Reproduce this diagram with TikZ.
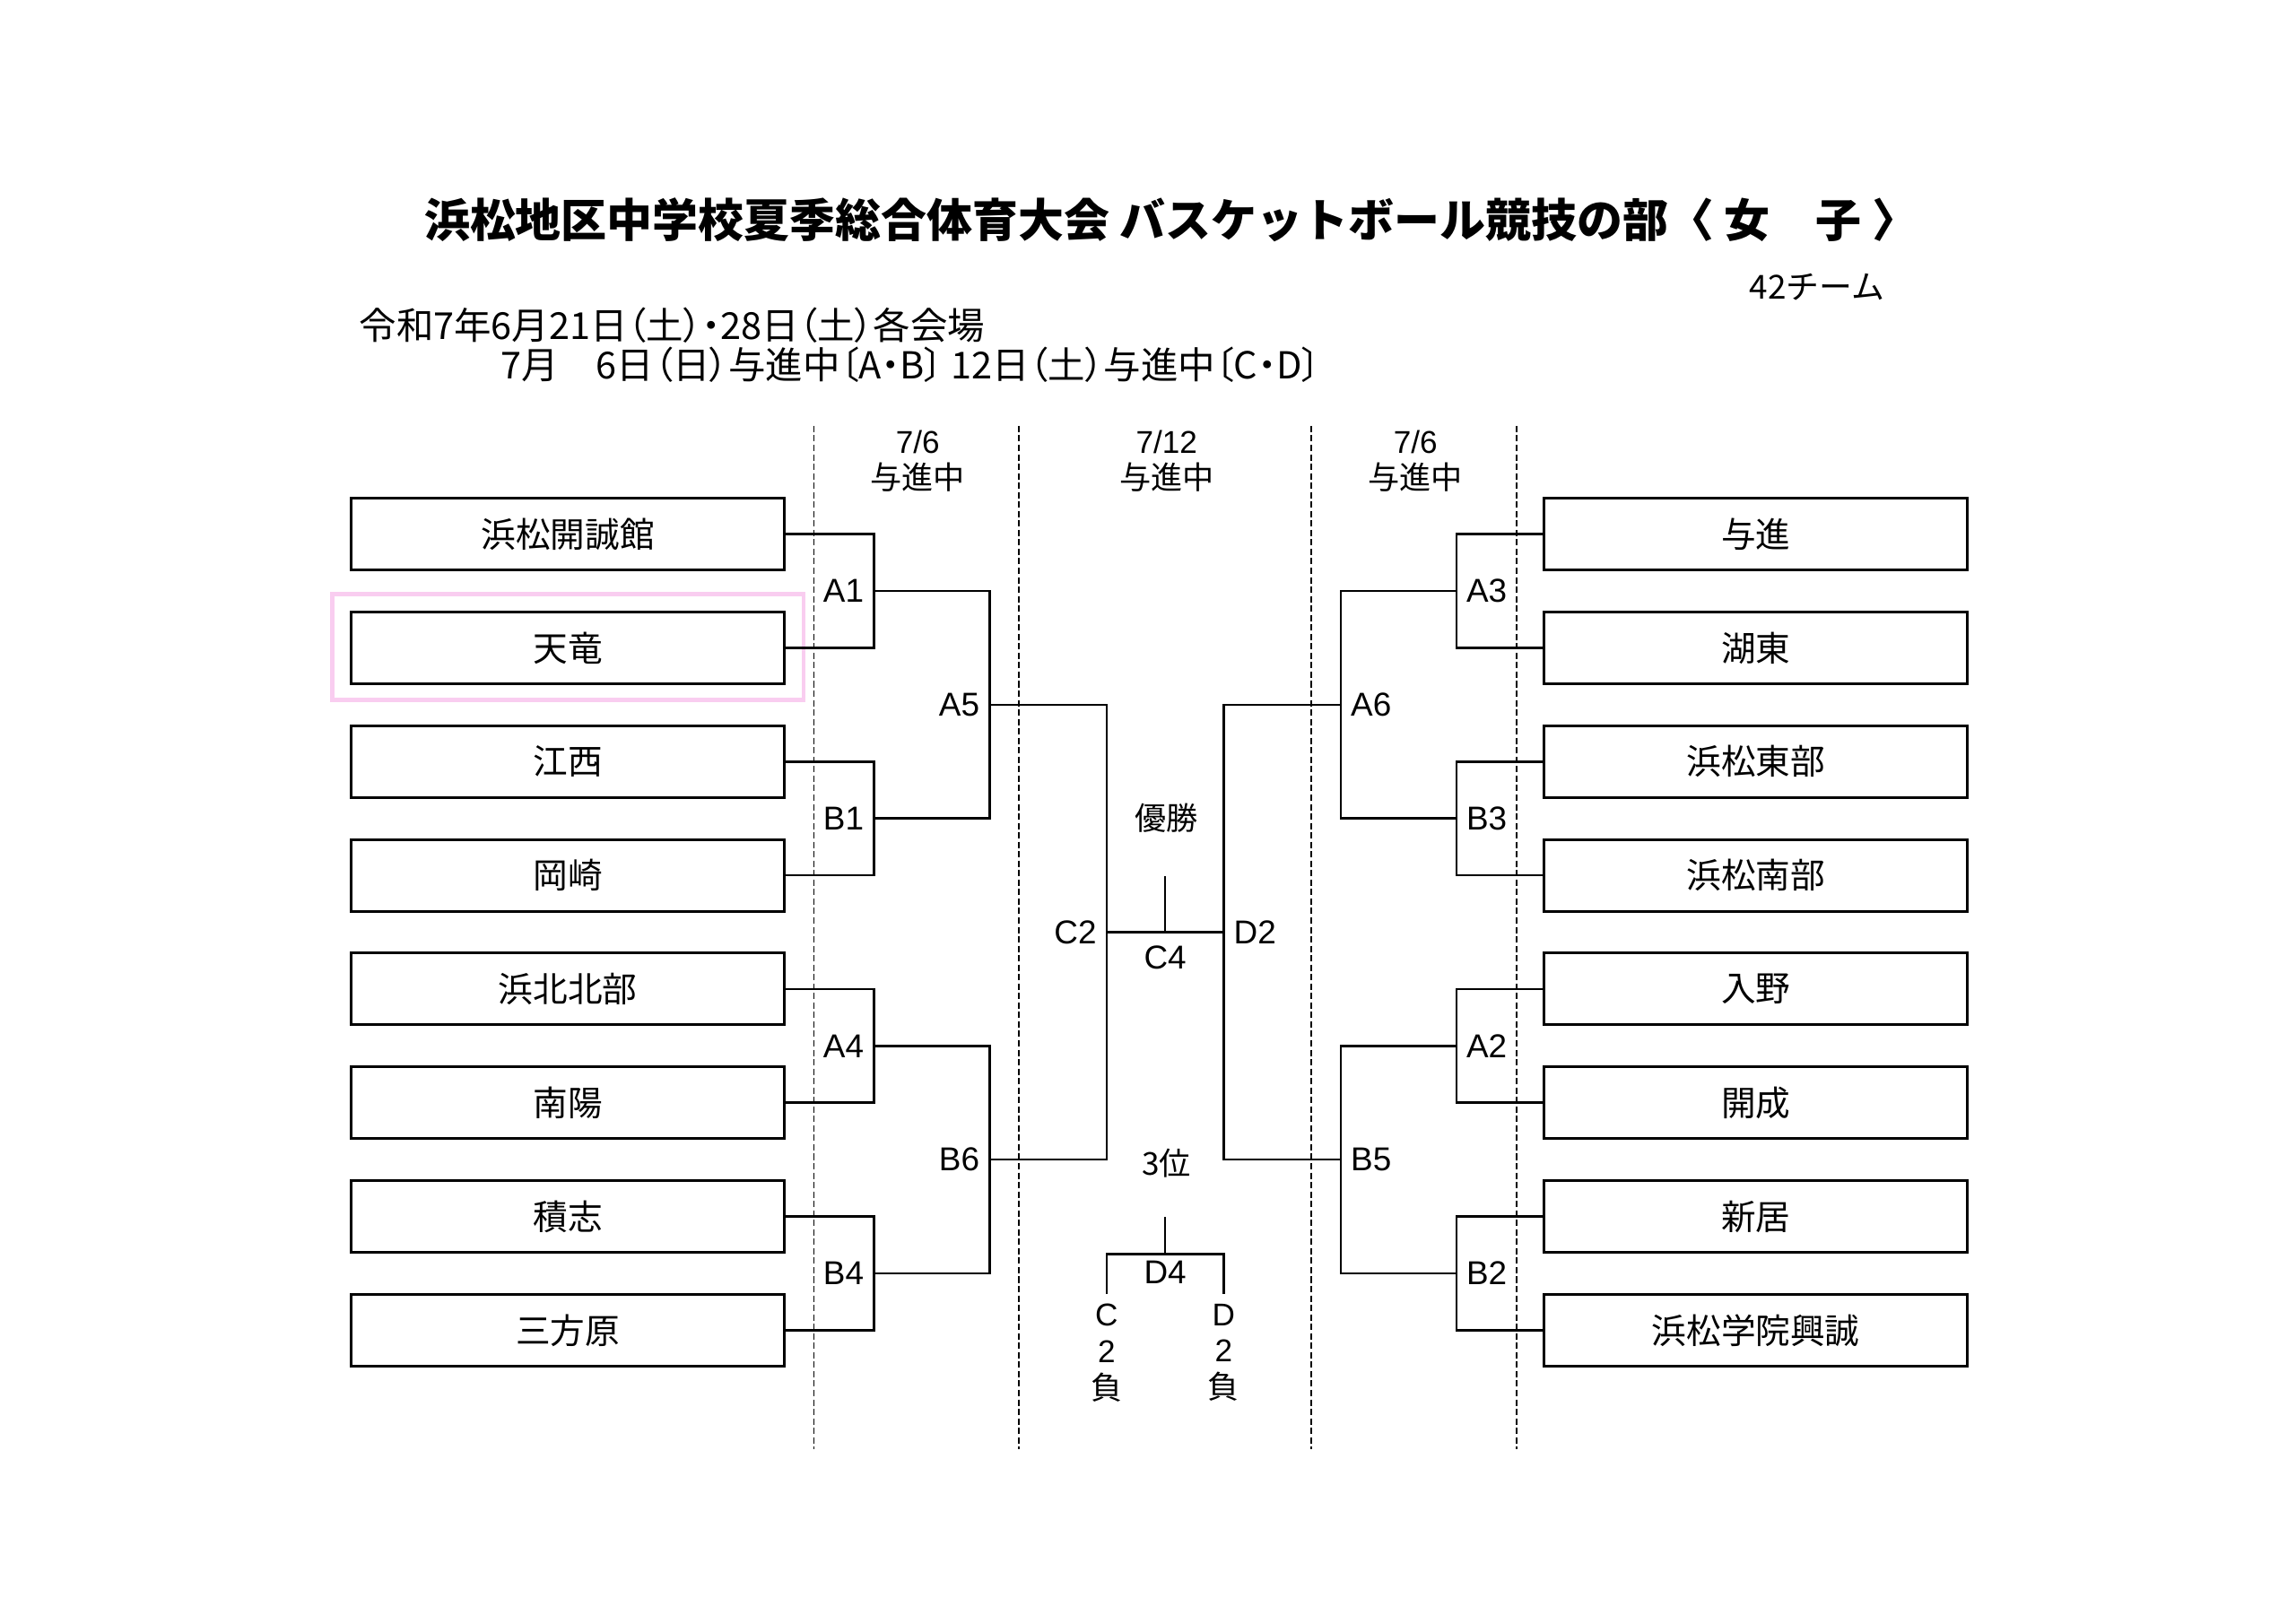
\documentclass[tikz,border=0pt]{standalone}
\usepackage{fontspec}
\setmainfont{Noto Sans CJK JP}
\newfontfamily\latin{Liberation Sans}
\newfontfamily\datefont[RawFeature=+palt]{Noto Sans CJK JP}
\usetikzlibrary{positioning}

\definecolor{markpink}{RGB}{249,205,240}

\tikzset{
	team/.style={draw, line width=0.85pt, minimum height=0.8cm, inner sep=0pt, font=\fontsize{11}{13}\selectfont},
	game/.style={inner sep=1pt, font=\latin\fontsize{10.5}{12}\selectfont},
	wire/.style={line width=0.75pt},
	divider/.style={line width=0.5pt, dash pattern=on 2pt off 1pt},
	note/.style={inner sep=0pt, align=center, font=\fontsize{10}{11.6}\selectfont},
	dateline/.style={anchor=west, inner sep=0pt, font=\datefont\fontsize{11.8}{13}\selectfont},
}

\begin{document}
\begin{tikzpicture}[x=0.01632cm, y=-0.01632cm]
		%%%%% START %%%%%
		\useasboundingbox[fill=white] (0, 0) rectangle (1568.6, 1109.1);
		
		\node[font=\bfseries\fontsize{14.5}{17}\selectfont] (title) at (800, 150) {浜松地区中学校夏季総合体育大会 バスケットボール競技の部〈 女　子 〉};
		\node[anchor=east, inner sep=0pt, font=\fontsize{10.5}{12}\selectfont] (count) at (1288, 196) {42チーム};
		\node[dateline] (date1) at (245, 222) {令和7年6月21日（土）・28日（土）各会場};
		\node[dateline] (date2) at (342, 249) {7月　6日（日）与進中〔A・B〕 12日（土）与進中〔C・D〕};
		
		% day columns
		\draw[divider] (556, 291) -- (556, 990);
		\draw[divider] (696, 291) -- (696, 990);
		\draw[divider] (896, 291) -- (896, 990);
		\draw[divider] (1036, 291) -- (1036, 990);
		\node[note] (dayL) at (627, 315) {{\latin 7/6}\\与進中};
		\node[note] (dayC) at (797, 315) {{\latin 7/12}\\与進中};
		\node[note] (dayR) at (967, 315) {{\latin 7/6}\\与進中};
		
		% marked team
		\draw[markpink, line width=1.4pt] (227, 406) rectangle (549, 478);
		
		% left half
		\node[team, minimum width=4.83cm] (L1) at (388, 365) {浜松開誠館};
		\node[team, minimum width=4.83cm] (L2) at (388, 442.7) {天竜};
		\node[team, minimum width=4.83cm] (L3) at (388, 520.4) {江西};
		\node[team, minimum width=4.83cm] (L4) at (388, 598.1) {岡崎};
		\node[team, minimum width=4.83cm] (L5) at (388, 675.8) {浜北北部};
		\node[team, minimum width=4.83cm] (L6) at (388, 753.5) {南陽};
		\node[team, minimum width=4.83cm] (L7) at (388, 831.2) {積志};
		\node[team, minimum width=4.83cm] (L8) at (388, 908.9) {三方原};
		
		\coordinate (A1) at (597, 403.85);
		\coordinate (B1) at (597, 559.25);
		\coordinate (A4) at (597, 714.65);
		\coordinate (B4) at (597, 870.05);
		\coordinate (A5) at (676, 481.55);
		\coordinate (B6) at (676, 792.35);
		\coordinate (C2) at (756, 637);
		
		\draw[wire] (L1.east) -| (A1);
		\draw[wire] (L2.east) -| (A1);
		\draw[wire] (L3.east) -| (B1);
		\draw[wire] (L4.east) -| (B1);
		\draw[wire] (L5.east) -| (A4);
		\draw[wire] (L6.east) -| (A4);
		\draw[wire] (L7.east) -| (B4);
		\draw[wire] (L8.east) -| (B4);
		\draw[wire] (A1) -| (A5);
		\draw[wire] (B1) -| (A5);
		\draw[wire] (A4) -| (B6);
		\draw[wire] (B4) -| (B6);
		\draw[wire] (A5) -| (C2);
		\draw[wire] (B6) -| (C2);
		
		\node[game, left=2pt of A1] (lA1) {A1};
		\node[game, left=2pt of B1] (lB1) {B1};
		\node[game, left=2pt of A4] (lA4) {A4};
		\node[game, left=2pt of B4] (lB4) {B4};
		\node[game, left=2pt of A5] (lA5) {A5};
		\node[game, left=2pt of B6] (lB6) {B6};
		\node[game, left=2pt of C2] (lC2) {C2};
		
		% right half
		\node[team, minimum width=4.72cm] (R1) at (1199.5, 365) {与進};
		\node[team, minimum width=4.72cm] (R2) at (1199.5, 442.7) {湖東};
		\node[team, minimum width=4.72cm] (R3) at (1199.5, 520.4) {浜松東部};
		\node[team, minimum width=4.72cm] (R4) at (1199.5, 598.1) {浜松南部};
		\node[team, minimum width=4.72cm] (R5) at (1199.5, 675.8) {入野};
		\node[team, minimum width=4.72cm] (R6) at (1199.5, 753.5) {開成};
		\node[team, minimum width=4.72cm] (R7) at (1199.5, 831.2) {新居};
		\node[team, minimum width=4.72cm] (R8) at (1199.5, 908.9) {浜松学院興誠};
		
		\coordinate (A3) at (995, 403.85);
		\coordinate (B3) at (995, 559.25);
		\coordinate (A2) at (995, 714.65);
		\coordinate (B2) at (995, 870.05);
		\coordinate (A6) at (916, 481.55);
		\coordinate (B5) at (916, 792.35);
		\coordinate (D2) at (836, 637);
		
		\draw[wire] (R1.west) -| (A3);
		\draw[wire] (R2.west) -| (A3);
		\draw[wire] (R3.west) -| (B3);
		\draw[wire] (R4.west) -| (B3);
		\draw[wire] (R5.west) -| (A2);
		\draw[wire] (R6.west) -| (A2);
		\draw[wire] (R7.west) -| (B2);
		\draw[wire] (R8.west) -| (B2);
		\draw[wire] (A3) -| (A6);
		\draw[wire] (B3) -| (A6);
		\draw[wire] (A2) -| (B5);
		\draw[wire] (B2) -| (B5);
		\draw[wire] (A6) -| (D2);
		\draw[wire] (B5) -| (D2);
		
		\node[game, right=2pt of A3] (lA3) {A3};
		\node[game, right=2pt of B3] (lB3) {B3};
		\node[game, right=2pt of A2] (lA2) {A2};
		\node[game, right=2pt of B2] (lB2) {B2};
		\node[game, right=2pt of A6] (lA6) {A6};
		\node[game, right=2pt of B5] (lB5) {B5};
		\node[game, right=2pt of D2] (lD2) {D2};
		
		% final
		\coordinate (C4) at (796, 637);
		\draw[wire] (C2) -- (D2);
		\draw[wire] (C4) -- ++(0, -38.5);
		\node[game, below=3pt of C4] (lC4) {C4};
		\node[note] (champ) at (797, 559) {優勝};
		
		% third place
		\node[note] (third) at (797, 795) {3位};
		\coordinate (D4) at (796, 857);
		\coordinate (Closer) at (756, 884);
		\coordinate (Dloser) at (836, 884);
		\draw[wire] (D4) -- ++(0, -25.5);
		\draw[wire] (Closer) |- (D4) -| (Dloser);
		\node[game, below=1pt of D4] (lD4) {D4};
		\node[note, below=3pt of Closer] (fromC) {{\latin C}\\{\latin 2}\\負};
		\node[note, below=3pt of Dloser] (fromD) {{\latin D}\\{\latin 2}\\負};
		
		%%%%% END %%%%%
\end{tikzpicture}
\end{document}
